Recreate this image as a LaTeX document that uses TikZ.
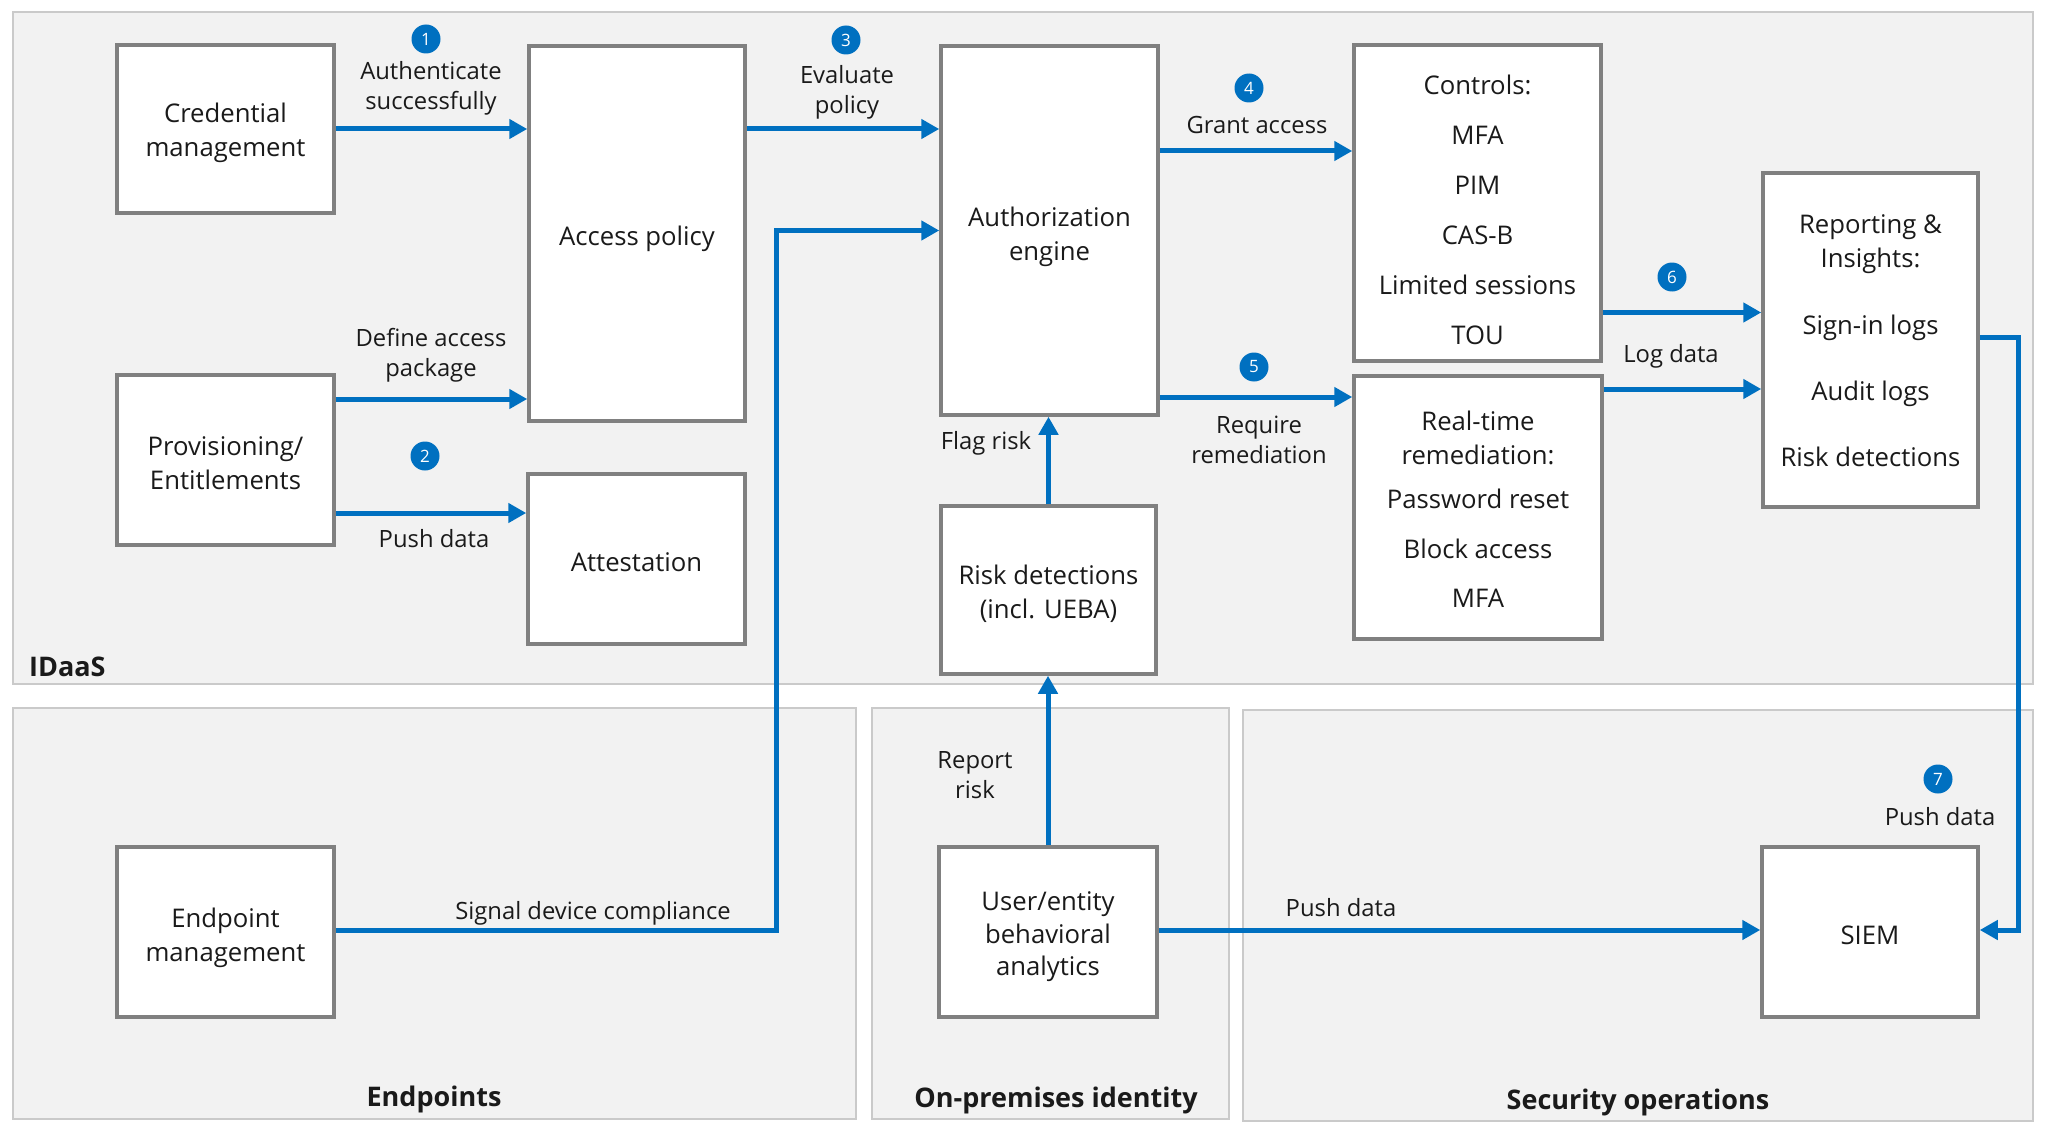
\documentclass[tikz,border=0pt]{standalone}
\usepackage{fontspec}
\setmainfont{Open Sans}
\usetikzlibrary{arrows.meta}
\definecolor{msblue}{HTML}{0070C0}
\definecolor{boxgray}{HTML}{808080}
\definecolor{panelfill}{HTML}{F2F2F2}
\definecolor{panelline}{HTML}{CACACA}
\definecolor{txt}{HTML}{1A1A1A}
\begin{document}
\begin{tikzpicture}[x=1pt,y=-1pt,
 panel/.style={fill=panelfill, draw=panelline, line width=2pt},
 box/.style={fill=white, draw=boxgray, line width=3.5pt, inner sep=0pt},
 btxt/.style={inner sep=0pt, text=txt, align=center, font=\fontsize{25.7}{34}\selectfont},
 lbl/.style={font=\fontsize{23.8}{30}\selectfont, text=txt, align=center, inner sep=0pt},
 plbl/.style={font=\fontsize{27}{34}\selectfont\bfseries, text=txt, inner sep=0pt},
 flow/.style={draw=msblue, line width=5pt, -{Triangle[length=18pt,width=19pt]}},
 badge/.style={circle, fill=msblue, text=white, minimum size=29pt, inner sep=0pt, font=\fontsize{17}{17}\selectfont}
]
\useasboundingbox (0,0) rectangle (2045,1137);
\fill[white] (0,0) rectangle (2045,1137);
% panels
\draw[panel] (13,12) rectangle (2033,684);
\draw[panel] (13,708) rectangle (856,1119);
\draw[panel] (872,708) rectangle (1229,1119);
\draw[panel] (1243,710) rectangle (2033,1121);
\node[plbl, anchor=west] (lidaas) at (29,667) {IDaaS};
\node[plbl] (lendp) at (434,1099) {Endpoints};
\node[plbl] (lonprem) at (1056,1100) {On-premises identity};
\node[plbl] (lsecops) at (1638,1102) {Security operations};
% boxes
\node[box, minimum width=217pt, minimum height=168pt] (cred) at (225.5,129) {};
\node[box, minimum width=216pt, minimum height=375pt] (access) at (637,233.5) {};
\node[box, minimum width=217pt, minimum height=170pt] (prov) at (225.5,460) {};
\node[box, minimum width=217pt, minimum height=170pt] (attest) at (636.5,559) {};
\node[box, minimum width=217pt, minimum height=369pt] (auth) at (1049.5,230.5) {};
\node[box, minimum width=215pt, minimum height=168pt] (risk) at (1048.5,590) {};
\node[box, minimum width=247pt, minimum height=316pt] (controls) at (1477.5,203) {};
\node[box, minimum width=248pt, minimum height=263pt] (realtime) at (1478,507.5) {};
\node[box, minimum width=215pt, minimum height=334pt] (report) at (1870.5,340) {};
\node[box, minimum width=217pt, minimum height=170pt] (endpoint) at (225.5,932) {};
\node[box, minimum width=218pt, minimum height=170pt] (ueba) at (1048,932) {};
\node[box, minimum width=216pt, minimum height=170pt] (siem) at (1870,932) {};
% box texts
\node[btxt] (credT) at ([yshift=-4pt]cred.center) {Credential\\management};
\node[btxt] (accessT) at ([yshift=-5pt]access.center) {Access policy};
\node[btxt] (provT) at ([yshift=-3pt]prov.center) {Provisioning/\\Entitlements};
\node[btxt] (attestT) at ([yshift=-3pt]attest.center) {Attestation};
\node[btxt] (authT) at ([yshift=-6pt]auth.center) {Authorization\\engine};
\node[btxt] (riskT) at ([yshift=-4pt]risk.center) {Risk detections\\(incl. UEBA)};
\node[btxt, font=\fontsize{25.7}{50}\selectfont] (controlsT) at ([yshift=-7pt]controls.center) {Controls:\\MFA\\PIM\\CAS-B\\Limited sessions\\TOU};
\node[btxt] (realtimeT) at ([yshift=-2pt]realtime.center) {Real-time\\remediation:\\[10pt]Password reset\\[15.6pt]Block access\\[15.6pt]MFA};
\node[btxt] (reportT) at ([yshift=-1pt]report.center) {Reporting \&\\Insights:\\[33pt]Sign-in logs\\[32pt]Audit logs\\[32pt]Risk detections};
\node[btxt] (endpointT) at ([yshift=-6pt]endpoint.center) {Endpoint\\management};
\node[btxt, font=\fontsize{25.7}{32.6}\selectfont] (uebaT) at ([yshift=-5pt]ueba.center) {User/entity\\behavioral\\analytics};
\node[btxt] (siemT) at ([yshift=-3pt]siem.center) {SIEM};
% helper coordinates
\coordinate (a2s) at ([yshift=61pt]prov.east);
\coordinate (a3s) at ([yshift=-53pt]prov.east);
\coordinate (a6s) at ([yshift=79.5pt]auth.east);
\coordinate (a7s) at ([yshift=-166.5pt]auth.east);
\coordinate (a8s) at ([yshift=-109.5pt]controls.east);
\coordinate (a9s) at ([yshift=118.5pt]realtime.east);
\coordinate (rs) at ([yshift=3pt]report.east);
\coordinate (es) at ([yshift=2pt]endpoint.east);
\coordinate (us) at ([yshift=2pt]ueba.east);
\coordinate (sw) at ([yshift=2pt]siem.west);
\coordinate (se) at ([yshift=2pt]siem.east);
\coordinate (sigturn) at (776,0);
\coordinate (rturn) at (2018,0);
% connectors
\draw[flow] (cred.east) -- (cred.east -| access.west);
\draw[flow] (a2s) -- (a2s -| access.west);
\draw[flow] (a3s) -- (a3s -| attest.west);
\draw[flow] (cred.east -| access.east) -- (cred.east -| auth.west);
\draw[flow] (es) -- (sigturn |- es) -- (sigturn |- auth.west) -- (auth.west);
\draw[flow] (a6s) -- (a6s -| controls.west);
\draw[flow] (a7s) -- (a7s -| realtime.west);
\draw[flow] (a8s) -- (a8s -| report.west);
\draw[flow] (a9s) -- (a9s -| report.west);
\draw[flow] (risk.north) -- (risk.north |- auth.south);
\draw[flow] (ueba.north) -- (ueba.north |- risk.south);
\draw[flow] (us) -- (sw);
\draw[flow] (rs) -- (rturn |- rs) -- (rturn |- se) -- (se);
% labels
\node[lbl] (t1) at (431,88) {Authenticate\\successfully};
\node[lbl] (t2) at (431,355) {Define access\\package};
\node[lbl] (t3) at (434,539) {Push data};
\node[lbl] (t4) at (847,92) {Evaluate\\policy};
\node[lbl] (t5) at (593,913) {Signal device compliance};
\node[lbl] (t6) at (1257,125) {Grant access};
\node[lbl] (t7) at (1259,440) {Require\\remediation};
\node[lbl] (t8) at (1671,356) {Log data};
\node[lbl] (t9) at (986,443) {Flag risk};
\node[lbl] (t10) at (975,775) {Report\\risk};
\node[lbl] (t11) at (1341,908) {Push data};
\node[lbl] (t12) at (1940,817) {Push data};
% badges
\node[badge] (b1) at (426,39) {1};
\node[badge] (b2) at (425,456) {2};
\node[badge] (b3) at (846,40) {3};
\node[badge] (b4) at (1249,88) {4};
\node[badge] (b5) at (1254,367) {5};
\node[badge] (b6) at (1672,277) {6};
\node[badge] (b7) at (1938,779) {7};
\end{tikzpicture}
\end{document}
